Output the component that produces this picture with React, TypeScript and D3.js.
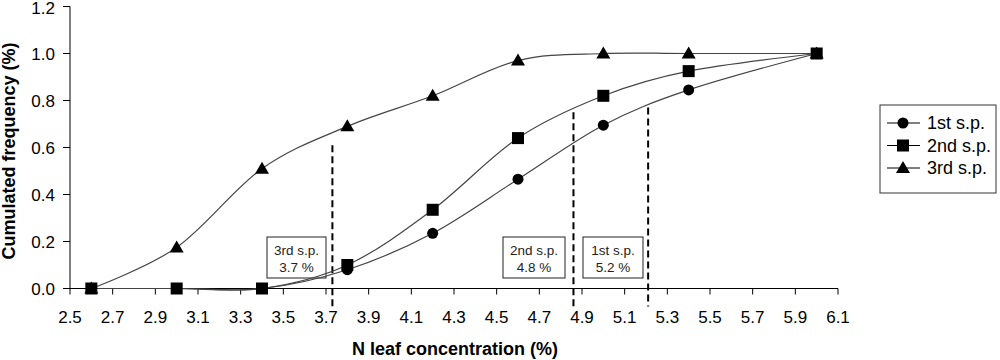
import React from "react";
import * as d3 from "d3";

// N leaf concentration (%) at which the cumulated frequency was read
const xValues = [2.6, 3.0, 3.4, 3.8, 4.2, 4.6, 5.0, 5.4, 6.0];
const first = [0, 0, 0, 0.08, 0.235, 0.465, 0.695, 0.845, 1.0];
const second = [0, 0, 0, 0.1, 0.335, 0.64, 0.82, 0.925, 1.0];
const third = [0, 0.175, 0.51, 0.69, 0.82, 0.97, 1.0, 1.0, 1.0];

const seriesNames = ["1st s.p.", "2nd s.p.", "3rd s.p."];
const seriesMarkers = ["circle", "square", "triangle"];

// thresholds (dashed lines + their boxes)
const thrNames = ["3rd s.p.", "2nd s.p.", "1st s.p."];
const thrLabels = ["3.7 %", "4.8 %", "5.2 %"];
const thrX = [3.73, 4.86, 5.21];
const thrTop = [0.61, 0.75, 0.77];

const xTicks = [2.5, 2.7, 2.9, 3.1, 3.3, 3.5, 3.7, 3.9, 4.1, 4.3, 4.5, 4.7, 4.9, 5.1, 5.3, 5.5, 5.7, 5.9, 6.1];
const yTicks = [0, 0.2, 0.4, 0.6, 0.8, 1.0, 1.2];

const W = 1000;
const H = 360;
const font = "'Liberation Sans', Arial, sans-serif";

const x = d3.scaleLinear().domain([2.5, 6.1]).range([70, 838]);
const y = d3.scaleLinear().domain([0, 1.2]).range([288.5, 6.5]);

function Marker({ kind, cx, cy }: { kind: string; cx: number; cy: number }) {
  if (kind === "circle") return <circle cx={cx} cy={cy} r={5.5} fill="#000" />;
  if (kind === "square")
    return <rect x={cx - 6} y={cy - 6} width={12} height={12} fill="#000" />;
  return (
    <path
      d={`M${cx},${cy - 7}L${cx + 7},${cy + 5}L${cx - 7},${cy + 5}Z`}
      fill="#000"
    />
  );
}

export default function App() {
  const all = [first, second, third];
  const line = d3
    .line<number>()
    .x((_, i) => x(xValues[i]))
    .y((d) => y(d))
    .curve(d3.curveCatmullRom.alpha(0));

  // boxes placed left of each dashed line
  const boxW = [59, 62, 60];
  const boxLeft = [267, 503, 583];

  return (
    <svg
      width={W}
      height={H}
      style={{ position: "absolute", left: 0, top: 0, background: "#fff" }}
      fontFamily={font}
    >
      {/* y axis */}
      <line x1={70} x2={70} y1={y(1.2)} y2={y(0)} stroke="#000" />
      {yTicks.map((t) => (
        <g key={t}>
          <line x1={63} x2={70} y1={y(t)} y2={y(t)} stroke="#000" />
          <text x={55} y={Math.max(y(t), 8)} dy="0.36em" textAnchor="end" fontSize={17}>
            {t.toFixed(1)}
          </text>
        </g>
      ))}
      {/* x axis */}
      <line x1={x(2.5)} x2={x(6.1)} y1={y(0)} y2={y(0)} stroke="#000" />
      {xTicks.map((t) => (
        <g key={t}>
          <line x1={x(t)} x2={x(t)} y1={y(0)} y2={y(0) + 6} stroke="#000" />
          <text x={x(t)} y={323} textAnchor="middle" fontSize={17}>
            {t.toFixed(1)}
          </text>
        </g>
      ))}

      <text x={455} y={355} textAnchor="middle" fontSize={18} fontWeight="bold">
        N leaf concentration (%)
      </text>
      <text
        transform={`translate(15,151) rotate(-90)`}
        textAnchor="middle"
        fontSize={18}
        fontWeight="bold"
      >
        Cumulated frequency (%)
      </text>

      {/* dashed threshold lines */}
      {thrX.map((v, i) => (
        <line
          key={i}
          x1={x(v)}
          x2={x(v)}
          y1={y(thrTop[i])}
          y2={y(0) + 18}
          stroke="#000"
          strokeWidth={2}
          strokeDasharray="7,4"
        />
      ))}
      {thrX.map((_, i) => (
        <g key={i}>
          <rect
            x={boxLeft[i]}
            y={237}
            width={boxW[i]}
            height={41}
            fill="#fff"
            stroke="#222"
          />
          <text x={boxLeft[i] + boxW[i] / 2} y={255} textAnchor="middle" fontSize={13.5} fill="#222">
            {thrNames[i]}
          </text>
          <text x={boxLeft[i] + boxW[i] / 2} y={272} textAnchor="middle" fontSize={13.5} fill="#222">
            {thrLabels[i]}
          </text>
        </g>
      ))}

      {/* series */}
      {all.map((s, k) => (
        <path key={k} d={line(s) || ""} fill="none" stroke="#444" strokeWidth={1.2} />
      ))}
      {all.map((s, k) =>
        s.map((v, i) => (
          <Marker key={`${k}-${i}`} kind={seriesMarkers[k]} cx={x(xValues[i])} cy={y(v)} />
        ))
      )}

      {/* legend */}
      <rect x={880} y={105} width={116} height={88} fill="#fff" stroke="#333" />
      {seriesNames.map((n, i) => (
        <g key={n} transform={`translate(0,${123 + i * 22.5})`}>
          <line x1={887} x2={920} y1={0} y2={0} stroke="#000" />
          <Marker kind={seriesMarkers[i]} cx={903} cy={0} />
          <text x={927} y={0} dy="0.36em" fontSize={18}>
            {n}
          </text>
        </g>
      ))}
    </svg>
  );
}
